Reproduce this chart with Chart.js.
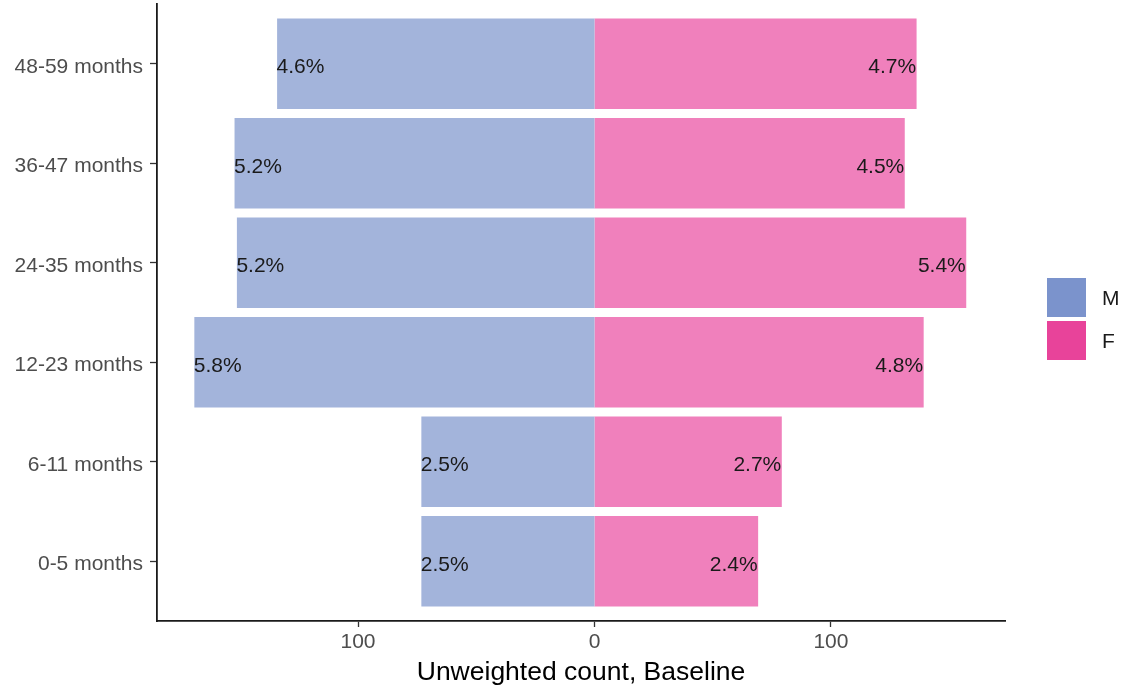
<!DOCTYPE html>
<html>
<head>
<meta charset="utf-8">
<script src="https://cdn.jsdelivr.net/npm/chart.js@4.4.1/dist/chart.umd.min.js"></script>
<style>
  html, body { margin: 0; padding: 0; background: #ffffff; }
  #wrap { width: 1122px; height: 690px; }
</style>
</head>
<body>
<div id="wrap"><canvas id="c" width="1122" height="690"></canvas></div>
<script>
// ---- data (bottom to top) ----
const categories = ['0-5 months', '6-11 months', '12-23 months', '24-35 months', '36-47 months', '48-59 months'];
const maleCounts = [73, 73, 169, 151, 152, 134];
const femaleCounts = [69, 79, 139, 157, 131, 136];
const malePct = ['2.5%', '2.5%', '5.8%', '5.2%', '5.2%', '4.6%'];
const femalePct = ['2.4%', '2.7%', '4.8%', '5.4%', '4.5%', '4.7%'];
const seriesNames = ['M', 'F'];
const xTickValues = [-100, 0, 100];
const xTitle = 'Unweighted count, Baseline';

const legendColors = ['#7b93cc', '#e8439a'];
const barColors = ['#a3b4db', '#f080bc'];
const FONT = '"Liberation Sans", Arial, Helvetica, sans-serif';

const barLabels = [malePct, femalePct];

const labelPlugin = {
  id: 'barLabels',
  afterDatasetsDraw(chart) {
    const ctx = chart.ctx;
    ctx.save();
    ctx.font = '21px ' + FONT;
    ctx.fillStyle = '#1a1a1a';
    ctx.textBaseline = 'middle';
    chart.data.datasets.forEach((ds, di) => {
      const meta = chart.getDatasetMeta(di);
      meta.data.forEach((el, i) => {
        const txt = barLabels[di][i];
        if (di === 0) {
          ctx.textAlign = 'left';
          ctx.fillText(txt, el.x - 1, el.y + 3.5);
        } else {
          ctx.textAlign = 'right';
          ctx.fillText(txt, el.x, el.y + 3.5);
        }
      });
    });
    ctx.restore();
  }
};

const legendPlugin = {
  id: 'sideLegend',
  afterDraw(chart) {
    const ctx = chart.ctx;
    const a = chart.chartArea;
    const x0 = a.right + 42;
    const y0 = a.top + 274;
    ctx.save();
    ctx.font = '21px ' + FONT;
    ctx.textAlign = 'left';
    ctx.textBaseline = 'middle';
    seriesNames.forEach((name, i) => {
      const y = y0 + i * 43;
      ctx.fillStyle = legendColors[i];
      ctx.fillRect(x0, y, 39, 39);
      ctx.fillStyle = '#1a1a1a';
      ctx.fillText(name, x0 + 55, y + 21);
    });
    ctx.restore();
  }
};

const datasets = [
  {
    label: seriesNames[0],
    data: maleCounts.map((v, i) => ({ x: -v, y: i + 1 })),
    backgroundColor: barColors[0],
    borderWidth: 0,
    inflateAmount: 0.5
  },
  {
    label: seriesNames[1],
    data: femaleCounts.map((v, i) => ({ x: v, y: i + 1 })),
    backgroundColor: barColors[1],
    borderWidth: 0,
    inflateAmount: 0.5
  }
];

function noPad(s) {
  s.paddingTop = 0; s.paddingBottom = 0; s.paddingLeft = 0; s.paddingRight = 0;
}

new Chart(document.getElementById('c'), {
  type: 'bar',
  data: { datasets },
  plugins: [labelPlugin, legendPlugin],
  options: {
    indexAxis: 'y',
    responsive: false,
    animation: false,
    devicePixelRatio: 1,
    grouped: false,
    categoryPercentage: 1.0,
    barPercentage: 0.9,
    layout: { padding: { top: 4, right: 117, left: 0, bottom: 0 } },
    plugins: {
      legend: { display: false },
      tooltip: { enabled: false }
    },
    scales: {
      x: {
        type: 'linear',
        min: -185,
        max: 173.6,
        afterBuildTicks: s => { s.ticks = xTickValues.map(v => ({ value: v })); },
        afterFit: s => { s.height = 69; noPad(s); },
        ticks: {
          callback: v => String(Math.abs(v)),
          font: { family: FONT, size: 21 },
          color: '#4d4d4d',
          padding: 3,
          maxRotation: 0,
          autoSkip: false
        },
        grid: {
          drawOnChartArea: false,
          drawTicks: true,
          tickLength: 6,
          tickColor: '#333333',
          tickWidth: 1.3
        },
        border: { display: true, color: '#1a1a1a', width: 1.8 },
        title: {
          display: true,
          text: xTitle,
          font: { family: FONT, size: 26.5 },
          color: '#000000',
          padding: { top: 0, bottom: 1 }
        }
      },
      y: {
        type: 'linear',
        min: 0.4,
        max: 6.6,
        offset: false,
        afterBuildTicks: s => { s.ticks = categories.map((c, i) => ({ value: i + 1 })); },
        afterFit: s => { s.width = 157; noPad(s); },
        ticks: {
          callback: v => categories[Math.round(v) - 1] || '',
          font: { family: FONT, size: 21 },
          color: '#4d4d4d',
          padding: 7,
          labelOffset: 3,
          autoSkip: false
        },
        grid: {
          offset: false,
          drawOnChartArea: false,
          drawTicks: true,
          tickLength: 7,
          tickColor: '#333333',
          tickWidth: 1.3
        },
        border: { display: true, color: '#1a1a1a', width: 1.8 }
      }
    }
  }
});
</script>
</body>
</html>
